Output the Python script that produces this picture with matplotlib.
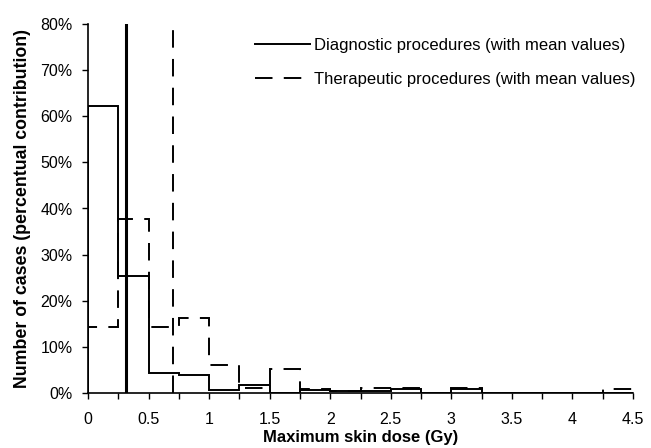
import numpy as np
import matplotlib
matplotlib.use('Agg')
from matplotlib import pyplot as plt
from matplotlib.ticker import FixedLocator, FuncFormatter

plt.rcParams['font.family'] = ['Liberation Sans', 'DejaVu Sans']

# bin edges of the dose histogram (Gy)
bin_edges = np.arange(0, 4.5001, 0.25)

# percent of cases per bin
diagnostic = [62.3, 25.3, 4.4, 3.9, 0.6, 1.7, 0.0, 0.6, 0.5, 0.4, 0.9, 0.0, 0.8,
              0.0, 0.0, 0.0, 0.0, 0.0]
therapeutic = [14.3, 37.7, 14.3, 16.3, 6.1, 1.0, 5.1, 0.9, 0.5, 1.1, 1.0, 0.0, 1.0,
               0.0, 0.0, 0.0, 0.0, 0.9]

diag_mean = 0.31
ther_mean = 0.70

x_labels = ['0', '0.5', '1', '1.5', '2', '2.5', '3', '3.5', '4', '4.5']

dash = (0, (9, 5.8))

fig = plt.figure(figsize=(6.51, 4.48), dpi=100)
ax = fig.add_axes([88/651, 1 - 393/448, (633-88)/651, (393-24)/448])

ax.stairs(diagnostic, bin_edges, baseline=0, color='black', lw=1.4,
          label='Diagnostic procedures (with mean values)')
ax.stairs(therapeutic, bin_edges, baseline=0, color='black', lw=1.4,
          linestyle=dash,
          label='Therapeutic procedures (with mean values)')

ax.axvline(diag_mean, color='black', lw=2.2)
ax.axvline(ther_mean, color='black', lw=1.4, linestyle=dash)

ax.set_xlim(0, 4.5)
ax.set_ylim(0, 80)

ax.xaxis.set_major_locator(FixedLocator(np.arange(0, 4.5001, 0.25)))
ax.xaxis.set_major_formatter(FuncFormatter(
    lambda v, p: x_labels[int(round(v * 2))] if abs(v * 2 - round(v * 2)) < 1e-6 else ''))
ax.set_yticks(np.arange(0, 81, 10))
ax.yaxis.set_major_formatter(FuncFormatter(lambda v, p: '%d%%' % v))

ax.tick_params(axis='both', labelsize=11.5, direction='out', length=4, width=1, color='black')
ax.tick_params(axis='x', pad=10)
ax.tick_params(axis='y', pad=7)

for s in ['top', 'right']:
    ax.spines[s].set_visible(False)
for s in ['left', 'bottom']:
    ax.spines[s].set_linewidth(1.2)

ax.set_xlabel('Maximum skin dose (Gy)', fontsize=12, fontweight='bold', labelpad=2)
ax.set_ylabel('Number of cases (percentual contribution)', fontsize=12.8,
              fontweight='bold', labelpad=7)

ax.legend(loc='upper left', bbox_to_anchor=(255/651, 1 - 38/448),
          bbox_transform=fig.transFigure, frameon=False, borderpad=0,
          borderaxespad=0, fontsize=12, handlelength=3.3, handletextpad=0.25,
          labelspacing=1.15)

fig.savefig('out.png', dpi=100)
